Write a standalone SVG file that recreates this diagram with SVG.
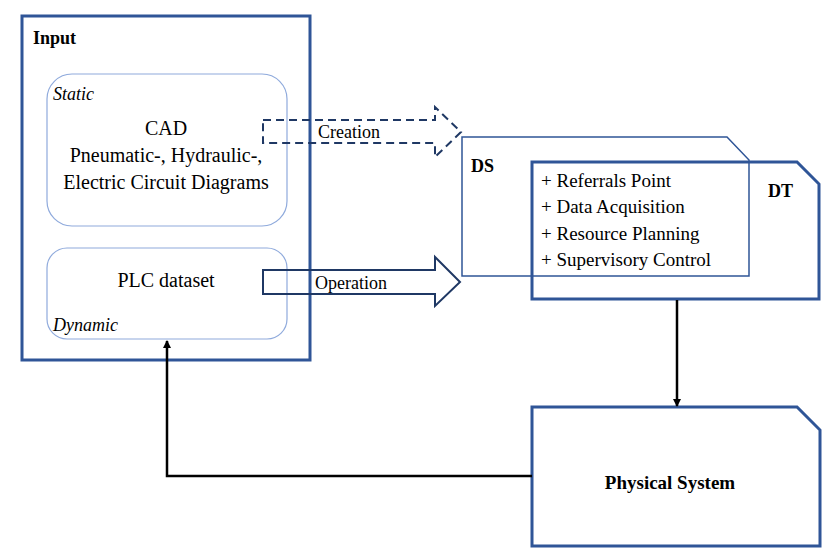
<svg xmlns="http://www.w3.org/2000/svg" width="837" height="560" viewBox="0 0 837 560">
<style>
text{font-family:'Liberation Serif','DejaVu Serif','Times New Roman',Times,serif;fill:#000}
.b{font-weight:bold}
.i{font-style:italic}
.outer{fill:none;stroke:#2F5597;stroke-width:3}
.thin{fill:none;stroke:#2F5597;stroke-width:1.5}
.soft{fill:none;stroke:#8FAADC;stroke-width:1.2}
.nav{fill:none;stroke:#1F3864;stroke-width:2}
.con{fill:none;stroke:#000;stroke-width:2.5}
</style>
<defs>
<marker id="ah" markerWidth="8" markerHeight="8" refX="7" refY="4" orient="auto" markerUnits="userSpaceOnUse">
<path d="M0,0 L8,4 L0,8 Z" fill="#000"/>
</marker>
</defs>
<g font-family="Liberation Serif, DejaVu Serif, serif">
<g id="input">
<rect class="outer" x="22" y="16" width="288" height="344"/>
<text class="b" x="33" y="44" font-size="18">Input</text>
</g>
<g id="static">
<rect class="soft" x="47" y="74" width="240" height="152" rx="25"/>
<text class="i" x="53" y="100" font-size="18">Static</text>
<text x="166" y="135" font-size="20" text-anchor="middle">CAD</text>
<text x="166" y="162" font-size="20" text-anchor="middle">Pneumatic-, Hydraulic-,</text>
<text x="166" y="189" font-size="20" text-anchor="middle">Electric Circuit Diagrams</text>
</g>
<g id="dynamic">
<rect class="soft" x="47" y="248" width="240" height="91" rx="20"/>
<text x="166" y="287" font-size="20" text-anchor="middle">PLC dataset</text>
<text class="i" x="53" y="331" font-size="18">Dynamic</text>
</g>
<g id="ds">
<path class="thin" d="M462,137 H727 L749,160 V276 H462 Z"/>
<text class="b" x="471" y="172" font-size="18">DS</text>
</g>
<g id="dt">
<path class="outer" d="M532,162 H797 L819,184 V299 H532 Z"/>
<text class="b" x="768" y="197" font-size="18">DT</text>
<text x="541" y="187" font-size="19">+ Referrals Point</text>
<text x="541" y="213" font-size="19">+ Data Acquisition</text>
<text x="541" y="240" font-size="19">+ Resource Planning</text>
<text x="541" y="266" font-size="19">+ Supervisory Control</text>
</g>
<g id="physical">
<path class="outer" d="M532,407 H797 L820,430 V546 H532 Z"/>
<text class="b" x="670" y="489" font-size="19" text-anchor="middle">Physical System</text>
</g>
<g id="connectors">
<path class="nav" stroke-dasharray="8,5" d="M263,120 H435 V107 L461,132 L435,157 V143 H263 Z"/>
<text x="318" y="138" font-size="18">Creation</text>
<path class="nav" d="M263,270 H435 V257 L460,282 L435,306 V294 H263 Z"/>
<text x="315" y="289" font-size="18">Operation</text>
<line class="con" x1="677" y1="300" x2="677" y2="406" marker-end="url(#ah)"/>
<polyline class="con" points="532,476 167,476 167,341" marker-end="url(#ah)"/>
</g>
</g>
</svg>
